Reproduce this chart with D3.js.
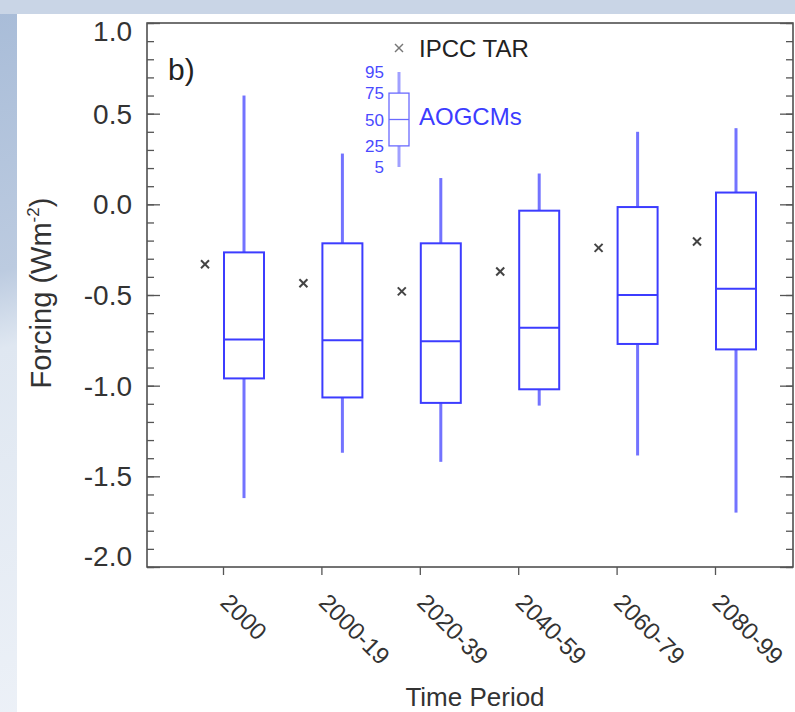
<!DOCTYPE html>
<html>
<head>
<meta charset="utf-8">
<script src="https://cdn.jsdelivr.net/npm/d3@7"></script>
<style>
  html, body { margin: 0; padding: 0; }
  body { width: 795px; height: 712px; overflow: hidden; }
</style>
</head>
<body>
<svg id="chart" width="795" height="712"></svg>
<script>
// time periods on the x axis
let periods = ["2000", "2000-19", "2020-39", "2040-59", "2060-79", "2080-99"]
// AOGCM percentiles (W m-2)
let p95 = [0.60, 0.28, 0.145, 0.17, 0.40, 0.42]
let p75 = [-0.265, -0.215, -0.215, -0.035, -0.015, 0.065]
let p50 = [-0.745, -0.75, -0.755, -0.68, -0.50, -0.465]
let p25 = [-0.96, -1.065, -1.095, -1.02, -0.77, -0.80]
let p5 = [-1.62, -1.37, -1.42, -1.11, -1.385, -1.70]
// IPCC TAR values
let tar = [-0.33, -0.435, -0.48, -0.37, -0.24, -0.205]
// y tick labels
let yTicks = [1.0, 0.5, 0.0, -0.5, -1.0, -1.5, -2.0]
let legendPercentiles = [95, 75, 50, 25, 5]

let config = {}

function initConfig() {
    let width = 795
    let height = 712
    let left = 147, right = 793, top = 23, bottom = 567
    let boxColor = "#3c3cff"
    let whiskerColor = "#7373ff"
    let fontFamily = "'Liberation Sans', Arial, Helvetica, sans-serif"
    let svg = d3.select("#chart")
    config = {width, height, left, right, top, bottom, boxColor, whiskerColor, fontFamily, svg}
}

function drawBackground() {
    let {svg, width, height} = config
    let defs = svg.append("defs")
    let grad = defs.append("linearGradient")
        .attr("id", "bg").attr("x1", 0).attr("y1", 0).attr("x2", 0.3).attr("y2", 1)
    grad.append("stop").attr("offset", "0%").attr("stop-color", "#a8bcd8")
    grad.append("stop").attr("offset", "35%").attr("stop-color", "#bccbe0")
    grad.append("stop").attr("offset", "45%").attr("stop-color", "#dfe7f1")
    grad.append("stop").attr("offset", "100%").attr("stop-color", "#eef2f8")
    svg.append("rect").attr("width", width).attr("height", height).attr("fill", "url(#bg)")
    svg.append("rect").attr("x", 0).attr("y", 0).attr("width", width).attr("height", 14)
        .attr("fill", "#c9d5e6")
    svg.append("rect").attr("x", 17).attr("y", 14).attr("width", width - 17).attr("height", height - 14)
        .attr("fill", "#ffffff")
}

function drawAxes(x, y) {
    let {svg, left, right, top, bottom, fontFamily} = config

    // frame
    svg.append("rect")
        .attr("x", left).attr("y", top)
        .attr("width", right - left).attr("height", bottom - top)
        .attr("fill", "none").attr("stroke", "#444").attr("stroke-width", 1.5)

    // minor ticks every 0.1, major every 0.5, both sides pointing inward
    let minor = d3.range(-20, 11).map(d => d / 10)
    let leftAxis = d3.axisRight(y).tickValues(minor).tickSize(7).tickFormat("")
    let rightAxis = d3.axisLeft(y).tickValues(minor).tickSize(7).tickFormat("")
    let gl = svg.append("g").attr("transform", `translate(${left},0)`).call(leftAxis)
    let gr = svg.append("g").attr("transform", `translate(${right},0)`).call(rightAxis)
    let gl2 = svg.append("g").attr("transform", `translate(${left},0)`)
        .call(d3.axisRight(y).tickValues(yTicks).tickSize(13).tickFormat(""))
    let gr2 = svg.append("g").attr("transform", `translate(${right},0)`)
        .call(d3.axisLeft(y).tickValues(yTicks).tickSize(13).tickFormat(""))
    ;[gl, gr, gl2, gr2].forEach(g => {
        g.select(".domain").remove()
        g.selectAll("line").attr("stroke", "#555").attr("stroke-width", 1.3)
    })

    // y tick labels (end labels kept inside the frame height)
    svg.selectAll(".ylab").data(yTicks).enter().append("text")
        .attr("class", "ylab")
        .attr("x", 132)
        .attr("y", d => Math.min(Math.max(y(d), top + 8), bottom - 11) + 10)
        .attr("text-anchor", "end")
        .attr("font-family", fontFamily)
        .attr("font-size", "28px")
        .attr("fill", "#333")
        .text(d => d3.format(".1f")(d).replace("−", "-"))

    // x axis ticks pointing outward
    let gx = svg.append("g").attr("transform", `translate(0,${bottom})`)
        .call(d3.axisBottom(x).tickSize(8).tickFormat(""))
    gx.select(".domain").remove()
    gx.selectAll("line").attr("stroke", "#555").attr("stroke-width", 1.3)

    svg.selectAll(".xlab").data(periods).enter().append("text")
        .attr("class", "xlab")
        .attr("transform", d => `translate(${x(d) - 4},${bottom + 37}) rotate(45)`)
        .attr("font-family", fontFamily)
        .attr("font-size", "24px")
        .attr("fill", "#333")
        .text(d => d)

    // axis titles
    svg.append("text")
        .attr("x", 475).attr("y", 706)
        .attr("text-anchor", "middle")
        .attr("font-family", fontFamily)
        .attr("font-size", "26px")
        .attr("fill", "#333")
        .text("Time Period")

    let yt = svg.append("text")
        .attr("transform", `translate(51,${(top + bottom) / 2 - 2}) rotate(-90)`)
        .attr("text-anchor", "middle")
        .attr("font-family", fontFamily)
        .attr("font-size", "29px")
        .attr("fill", "#333")
    yt.append("tspan").text("Forcing (Wm")
    yt.append("tspan").attr("font-size", "17px").attr("dy", -12).text("-2")
    yt.append("tspan").attr("dy", 12).text(")")

    svg.append("text")
        .attr("x", 168).attr("y", 80)
        .attr("font-family", fontFamily)
        .attr("font-size", "30px")
        .attr("fill", "#222")
        .text("b)")
}

function drawCross(g, cx, cy, size) {
    g.append("line").attr("x1", cx - size).attr("y1", cy - size).attr("x2", cx + size).attr("y2", cy + size)
    g.append("line").attr("x1", cx - size).attr("y1", cy + size).attr("x2", cx + size).attr("y2", cy - size)
}

function drawBoxes(x, y) {
    let {svg, boxColor, whiskerColor} = config
    let boxOffset = 21, markerOffset = -18, halfW = 20

    periods.forEach((p, i) => {
        let cx = x(p) + boxOffset
        svg.append("line")
            .attr("x1", cx).attr("x2", cx)
            .attr("y1", y(p95[i])).attr("y2", y(p75[i]))
            .attr("stroke", whiskerColor).attr("stroke-width", 3)
        svg.append("line")
            .attr("x1", cx).attr("x2", cx)
            .attr("y1", y(p25[i])).attr("y2", y(p5[i]))
            .attr("stroke", whiskerColor).attr("stroke-width", 3)
        svg.append("rect")
            .attr("x", cx - halfW).attr("y", y(p75[i]))
            .attr("width", halfW * 2).attr("height", y(p25[i]) - y(p75[i]))
            .attr("fill", "none").attr("stroke", boxColor).attr("stroke-width", 2)
        svg.append("line")
            .attr("x1", cx - halfW).attr("x2", cx + halfW)
            .attr("y1", y(p50[i])).attr("y2", y(p50[i]))
            .attr("stroke", boxColor).attr("stroke-width", 2)

        let g = svg.append("g").attr("stroke", "#444").attr("stroke-width", 2)
        drawCross(g, x(p) + markerOffset, y(tar[i]), 4)
    })
}

function drawLegend() {
    let {svg, boxColor, whiskerColor, fontFamily} = config
    let ly = d3.scaleLinear().domain([5, 95]).range([167, 72])
    let cx = 399, halfW = 10

    let g = svg.append("g").attr("stroke", "#777").attr("stroke-width", 1.5)
    drawCross(g, 399, 48, 4)
    svg.append("text")
        .attr("x", 419).attr("y", 57)
        .attr("font-family", fontFamily)
        .attr("font-size", "24px")
        .attr("fill", "#222")
        .text("IPCC TAR")

    svg.append("line").attr("x1", cx).attr("x2", cx).attr("y1", ly(95)).attr("y2", ly(75))
        .attr("stroke", "#a0a0ff").attr("stroke-width", 3)
    svg.append("line").attr("x1", cx).attr("x2", cx).attr("y1", ly(25)).attr("y2", ly(5))
        .attr("stroke", "#a0a0ff").attr("stroke-width", 3)
    svg.append("rect")
        .attr("x", cx - halfW).attr("y", ly(75))
        .attr("width", halfW * 2).attr("height", ly(25) - ly(75))
        .attr("fill", "#fff").attr("stroke", "#6a6aff").attr("stroke-width", 1.3)
    svg.append("line").attr("x1", cx - halfW).attr("x2", cx + halfW).attr("y1", ly(50)).attr("y2", ly(50))
        .attr("stroke", "#6a6aff").attr("stroke-width", 1.3)

    svg.selectAll(".leglab").data(legendPercentiles).enter().append("text")
        .attr("x", 384).attr("y", d => ly(d) + 6)
        .attr("text-anchor", "end")
        .attr("font-family", fontFamily)
        .attr("font-size", "17px")
        .attr("fill", "#4a4aff")
        .text(d => d)

    svg.append("text")
        .attr("x", 419).attr("y", 125)
        .attr("font-family", fontFamily)
        .attr("font-size", "24px")
        .attr("fill", boxColor)
        .text("AOGCMs")
}

function drawChart() {
    initConfig()
    let {left, right, top, bottom} = config
    let y = d3.scaleLinear().domain([-2, 1]).range([bottom, top])
    let x = d3.scalePoint().domain(periods).range([223, 715])
    drawBackground()
    drawAxes(x, y)
    drawBoxes(x, y)
    drawLegend()
}

drawChart()
</script>
</body>
</html>
